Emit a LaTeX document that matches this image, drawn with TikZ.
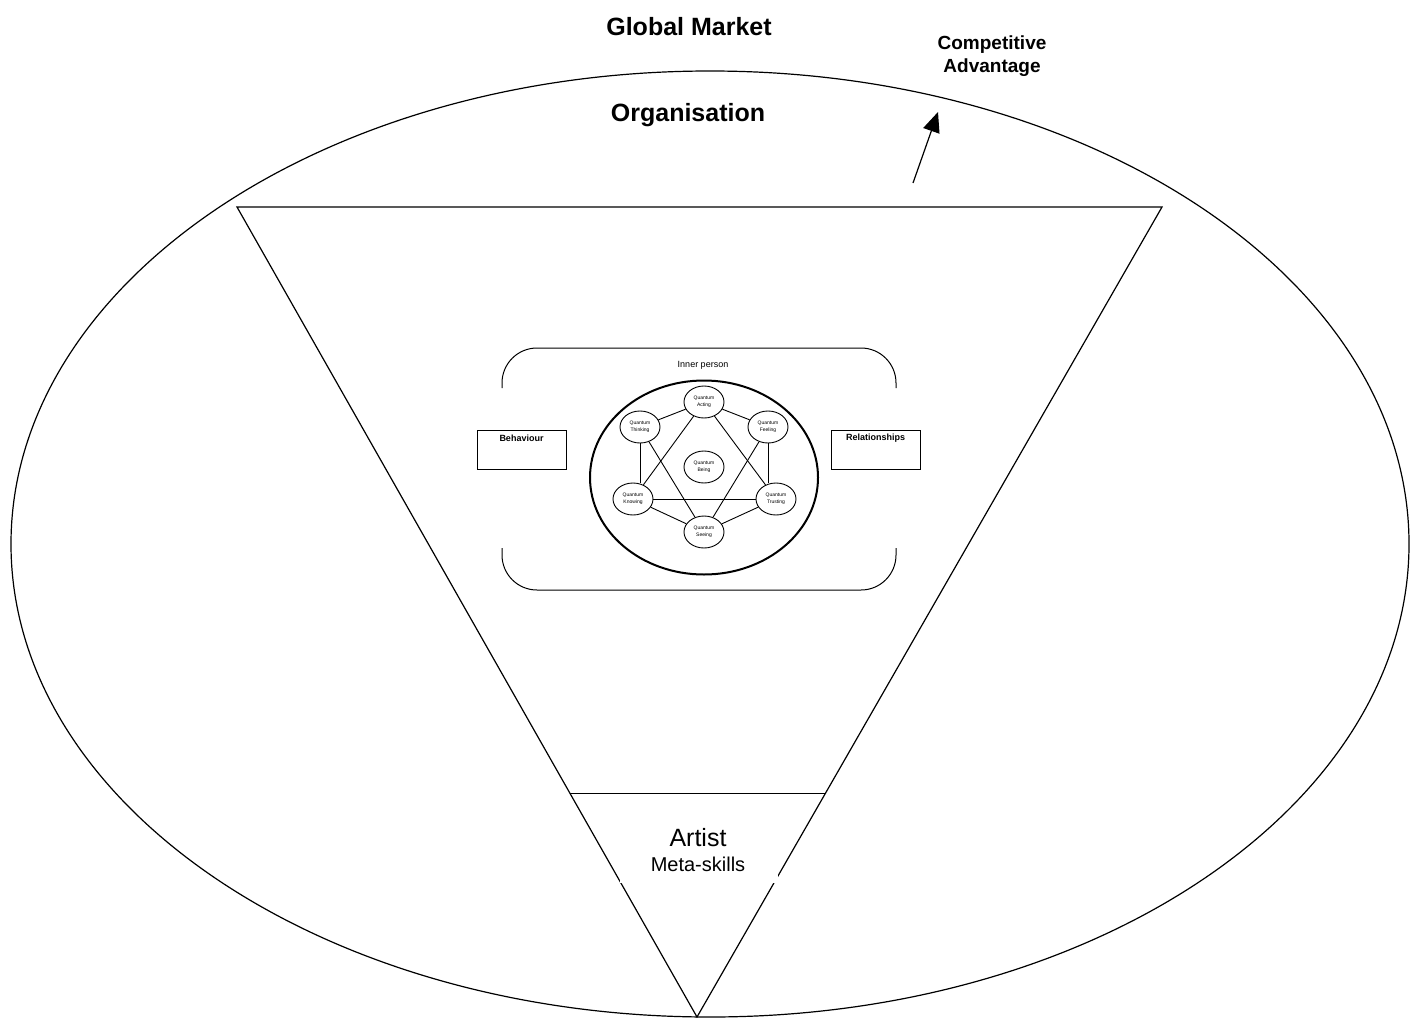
\documentclass[tikz,border=0pt]{standalone}
\usepackage{fontspec}
\setmainfont{Liberation Sans}
\usetikzlibrary{shapes.geometric,arrows.meta,calc}
\tikzset{
  line/.style={line width=1.2pt},
  title/.style={font=\fontsize{25}{28}\selectfont\bfseries, inner sep=0pt},
  sidebox/.style={draw, line width=1pt, minimum width=89pt, minimum height=39pt, inner sep=0pt},
  sidelabel/.style={font=\fontsize{9}{11}\selectfont\bfseries, inner sep=0pt},
  qnode/.style={draw, ellipse, line width=0.9pt, minimum width=40pt, minimum height=32pt, inner sep=0pt,
    align=center, font=\fontsize{5}{7}\selectfont},
  qlink/.style={line width=0.9pt},
}
\begin{document}
\begin{tikzpicture}[x=1pt,y=-1pt]
\useasboundingbox (0,0) rectangle (1418,1017);

% outer ellipse: the organisation
\draw[line] (710,544) ellipse [x radius=699, y radius=473];

% inverted triangle
\coordinate (tl) at (237,207);
\coordinate (tr) at (1162,207);
\coordinate (apex) at (697,1017);
\draw[line, fill=white] (tl) -- (tr) -- (apex) -- cycle;

% base band of the triangle
\coordinate (bl) at ($(tl)!0.7239!(apex)$);
\coordinate (br) at ($(tr)!0.7239!(apex)$);
\draw[line] (bl) -- (br);

% artist box (white, hides the sides behind it)
\node[fill=white, minimum width=158pt, minimum height=82pt, inner sep=0pt] (artbox) at (699,842) {};
\node[font=\fontsize{25}{28}\selectfont, inner sep=0pt] (artist) at (698,838) {Artist};
\node[font=\fontsize{20}{24}\selectfont, inner sep=0pt] (meta) at (698,864) {Meta-skills};

% titles
\node[title] (market) at (689,27) {Global Market};
\node[title] (org) at (688,115) {Organisation};
\node[font=\fontsize{19}{24}\selectfont\bfseries, align=center, inner sep=0pt] (adv) at (992,56) {Competitive\\[-1pt]Advantage};

% arrow toward competitive advantage
\coordinate (arrstart) at (913,183);
\coordinate (arrend) at (938,112);
\draw[line, -{Triangle[length=20pt,width=17pt]}] (arrstart) -- (arrend);

% inner person frame, open on both sides
\draw[line width=1pt, rounded corners=35pt] (502,388) -- (502,348) -- (896,348) -- (896,388);
\draw[line width=1pt, rounded corners=35pt] (502,548) -- (502,590) -- (896,590) -- (896,548);
\node[font=\fontsize{9}{11}\selectfont, inner sep=0pt] (inner) at (703,365) {Inner person};

% behaviour and relationships boxes
\node[sidebox] (beh) at (521.5,449.5) {};
\node[sidelabel] (behl) at (521.5,438) {Behaviour};
\node[sidebox] (rel) at (875.5,449.5) {};
\node[sidelabel] (rell) at (875.5,438) {Relationships};

% quantum ring
\draw[line width=2pt] (704,477.5) ellipse [x radius=114, y radius=97];
\node[qnode] (acting) at (704,402) {Quantum\\Acting};
\node[qnode] (thinking) at (640,427) {Quantum\\Thinking};
\node[qnode] (feeling) at (768,427) {Quantum\\Feeling};
\node[qnode] (being) at (704,467) {Quantum\\Being};
\node[qnode] (knowing) at (633,499) {Quantum\\Knowing};
\node[qnode] (trusting) at (776,499) {Quantum\\Trusting};
\node[qnode] (seeing) at (704,532) {Quantum\\Seeing};

\draw[qlink] (acting) -- (thinking);
\draw[qlink] (acting) -- (feeling);
\draw[qlink] (thinking.south) -- (thinking.south |- knowing.north);
\draw[qlink] (feeling.south) -- (feeling.south |- trusting.north);
\draw[qlink] (knowing) -- (trusting);
\draw[qlink] (knowing) -- (seeing);
\draw[qlink] (trusting) -- (seeing);
\draw[qlink] (acting) -- (knowing);
\draw[qlink] (acting) -- (trusting);
\draw[qlink] (thinking) -- (seeing);
\draw[qlink] (feeling) -- (seeing);
\end{tikzpicture}
\end{document}
